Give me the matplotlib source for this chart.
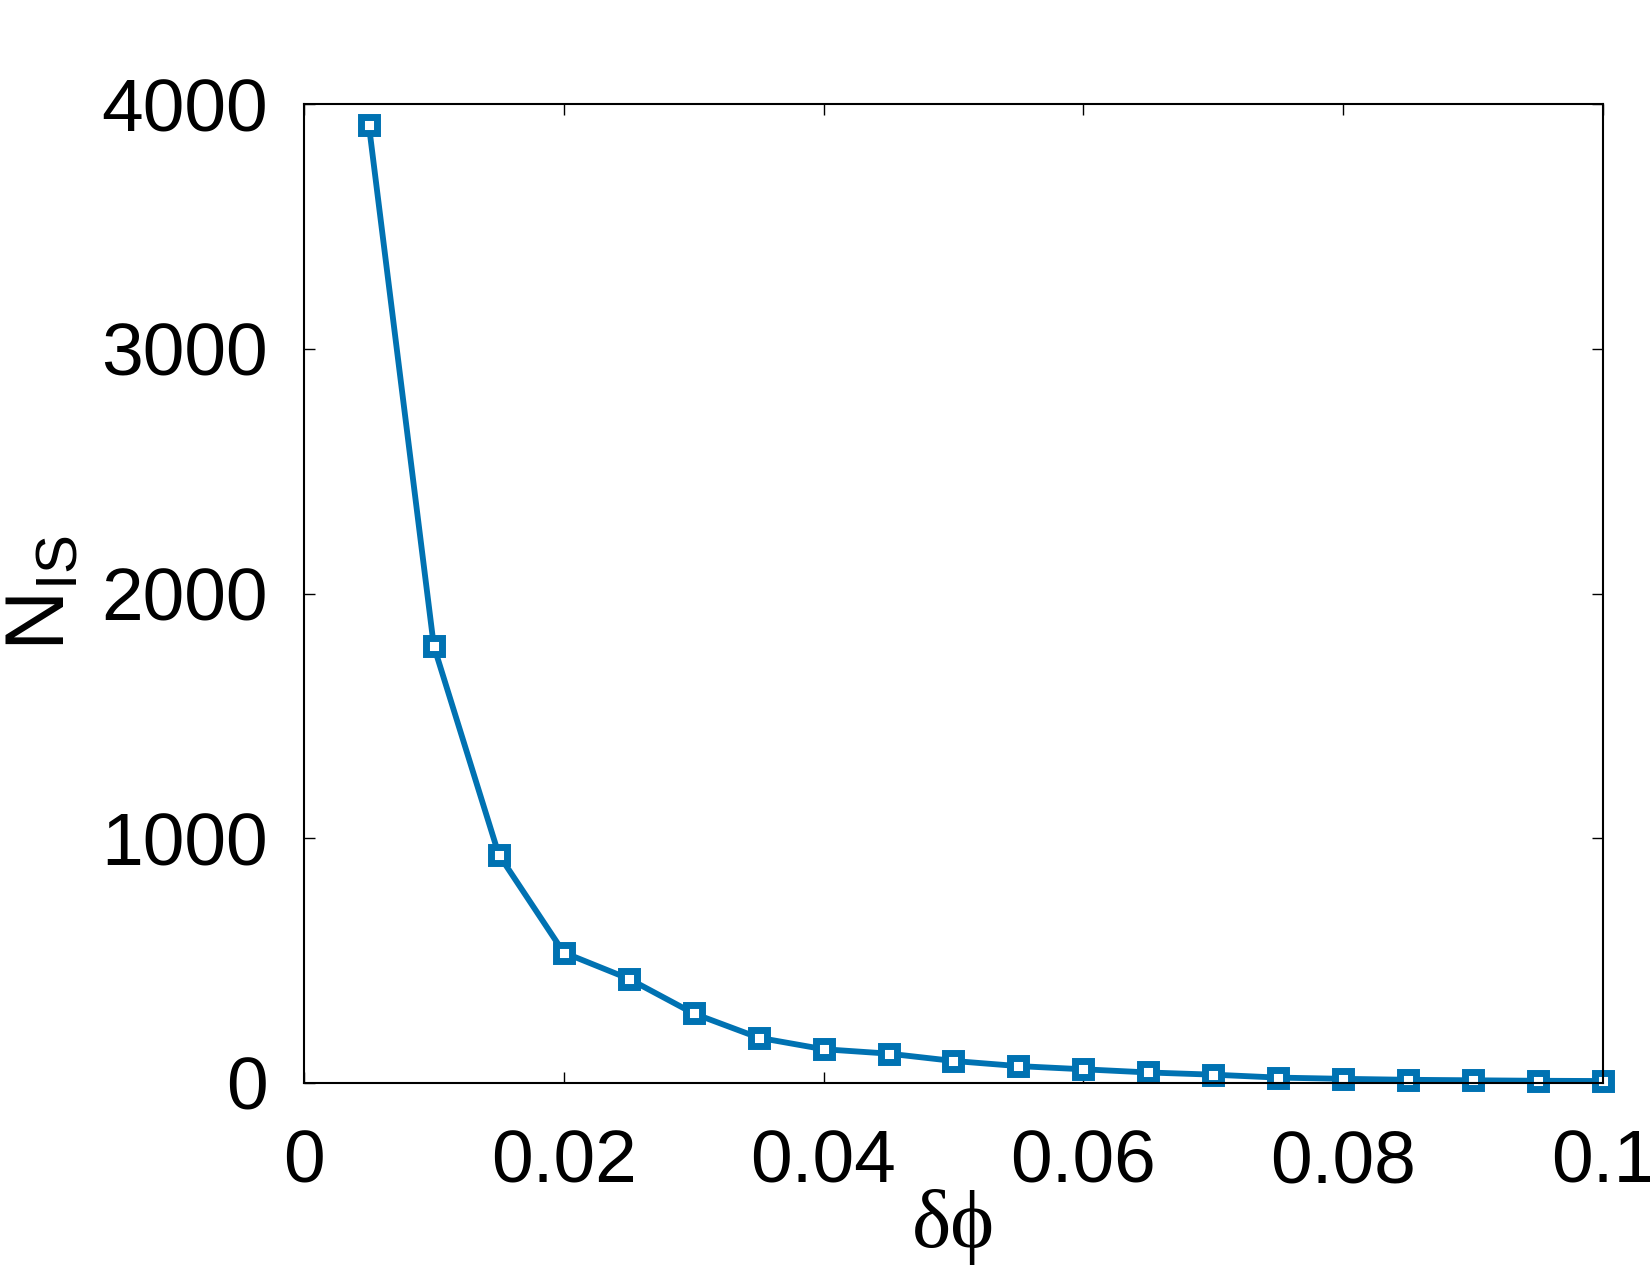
import matplotlib
matplotlib.use('Agg')
import matplotlib.pyplot as plt
import numpy as np

# データ
dphi = [0.005, 0.01, 0.015, 0.02, 0.025, 0.03, 0.035, 0.04, 0.045, 0.05,
        0.055, 0.06, 0.065, 0.07, 0.075, 0.08, 0.085, 0.09, 0.095, 0.1]
n_is = [3914, 1785, 933, 533, 426, 284, 185, 138, 120, 90,
        69, 56, 43, 34, 22, 17, 13, 11, 9, 8]

xticks = [0, 0.02, 0.04, 0.06, 0.08, 0.1]
xticklabels = ['0', '0.02', '0.04', '0.06', '0.08', '0.1']
yticks = [0, 1000, 2000, 3000, 4000]

plt.rcParams['font.family'] = ['Liberation Sans', 'DejaVu Sans']
plt.rcParams['mathtext.fontset'] = 'custom'
plt.rcParams['mathtext.rm'] = 'Liberation Sans'

fig = plt.figure(figsize=(16.5, 12.75), dpi=100)
ax = fig.add_axes([0.1842, 0.1506, 0.7873, 0.7678])

ax.plot(dphi, n_is, color='#0072b2', linewidth=4.2, marker='s', markersize=12,
        markerfacecolor='white', markeredgewidth=5, markeredgecolor='#0072b2',
        clip_on=False)

ax.set_xlim(0, 0.1)
ax.set_ylim(0, 4000)
ax.set_xticks(xticks)
ax.set_xticklabels(xticklabels)
ax.set_yticks(yticks)
ax.tick_params(direction='in', length=8, width=1, top=True, right=True,
               labelsize=54)
ax.tick_params(axis='x', pad=33)
ax.tick_params(axis='y', pad=26)
for s in ax.spines.values():
    s.set_linewidth(1.5)

ax.set_xlabel('δϕ', family=['Liberation Serif', 'DejaVu Serif'], fontsize=60, labelpad=-6)
ax.set_ylabel(r'N$_{\mathrm{IS}}$', fontsize=60, labelpad=14)

fig.savefig('out.png', dpi=100)
